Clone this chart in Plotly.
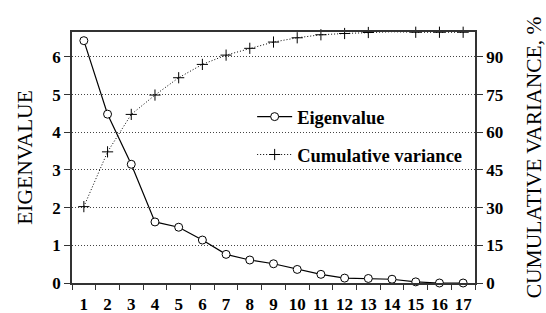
import plotly.graph_objects as go

components = list(range(1, 18))
eigenvalues = [6.43, 4.48, 3.15, 1.62, 1.48, 1.14, 0.76, 0.61, 0.51, 0.36, 0.23, 0.13, 0.12, 0.10, 0.03, 0.0, 0.0]
cumulative = [30.4, 52.2, 67.1, 74.8, 81.7, 87.0, 90.7, 93.4, 95.9, 97.6, 98.8, 99.3, 99.7, 100.0, 99.8, 99.8, 99.8]
left_ticks = [0, 1, 2, 3, 4, 5, 6]
right_ticks = [0, 15, 30, 45, 60, 75, 90]

SERIF = "Liberation Serif"
tickfont = dict(family=SERIF, size=17, color="black")

def bold(vals):
    return ["<b>%s</b>" % v for v in vals]

fig = go.Figure()
fig.add_trace(go.Scatter(
    x=components, y=cumulative, yaxis="y2", name="<b>Cumulative variance</b>",
    mode="lines+markers", cliponaxis=False,
    line=dict(color="black", width=1, dash="1px,2px"),
    marker=dict(symbol="cross-thin", size=8, line=dict(color="black", width=1)),
    legend="legend2",
))
fig.add_trace(go.Scatter(
    x=components, y=eigenvalues, name="<b>Eigenvalue</b>",
    mode="lines+markers", cliponaxis=False,
    line=dict(color="black", width=1.2),
    marker=dict(symbol="circle", size=8, color="white", line=dict(color="black", width=1)),
    legend="legend",
))

fig.update_layout(
    width=546, height=313,
    margin=dict(l=72, r=71, t=32, b=30),
    plot_bgcolor="white", paper_bgcolor="white",
    font=dict(family=SERIF, color="black"),
    xaxis=dict(
        range=[0.5, 17.5], tickmode="array", tickvals=components,
        ticktext=bold(components), ticks="", tickfont=tickfont, ticklabelstandoff=5,
        showgrid=False, zeroline=False, showline=True, linecolor="#333", linewidth=1.5, mirror=True,
        minor=dict(tickmode="array", tickvals=[c + 0.5 for c in range(0, 18)], ticks="outside",
                   ticklen=5, tickcolor="#333", tickwidth=1.3, showgrid=False),
        automargin=False,
    ),
    yaxis=dict(
        range=[0, 6.66], tickmode="array", tickvals=left_ticks, ticktext=bold(left_ticks),
        ticks="outside", ticklen=6, tickcolor="#333", tickwidth=1.3,
        tickfont=tickfont, showgrid=True, gridcolor="#444", griddash="1px,2px", gridwidth=1,
        zeroline=False, showline=True, linecolor="#333", linewidth=1.5,
        title=dict(text="EIGENVALUE", font=dict(family=SERIF, size=21.5, color="black"), standoff=14),
        automargin=False,
    ),
    yaxis2=dict(
        range=[0, 99.9], tickmode="array", tickvals=right_ticks, ticktext=bold(right_ticks),
        overlaying="y", side="right",
        ticks="outside", ticklen=6, tickcolor="#333", tickwidth=1.3, tickfont=tickfont,
        showgrid=False, zeroline=False, showline=True, linecolor="#333", linewidth=1.5,
        title=dict(text="CUMULATIVE VARIANCE, %", font=dict(family=SERIF, size=21.5, color="black"), standoff=31),
        automargin=False,
    ),
    legend=dict(x=0.447, y=0.661, xanchor="left", yanchor="middle", bgcolor="rgba(0,0,0,0)",
                itemwidth=35, font=dict(family=SERIF, size=18.5, color="black")),
    legend2=dict(x=0.447, y=0.51, xanchor="left", yanchor="middle", bgcolor="rgba(0,0,0,0)",
                 itemwidth=35, font=dict(family=SERIF, size=18.5, color="black")),
    showlegend=True,
)

fig.write_html("out.html", config={"displayModeBar": False},
               post_script="document.body.style.margin='0';")
